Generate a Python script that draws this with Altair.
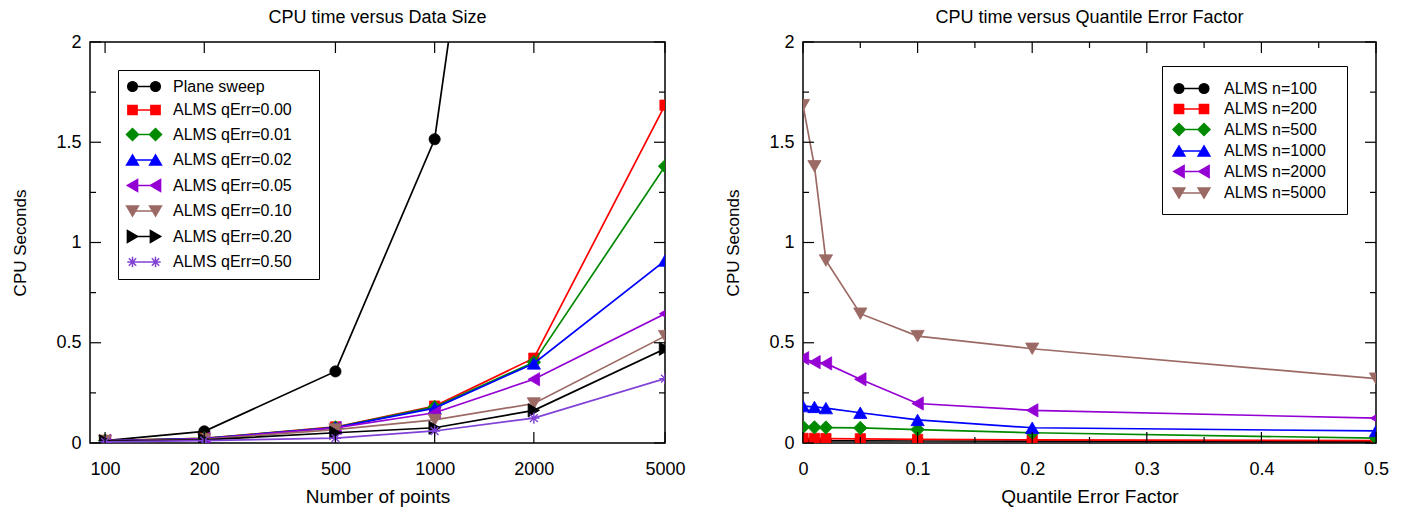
import altair as alt
import pandas as pd

# ---------------- data ----------------
sizes = [100, 200, 500, 1000, 2000, 5000]
qerrs = [0.0, 0.01, 0.02, 0.05, 0.10, 0.20, 0.50]

plane_sweep = [0.012, 0.058, 0.357, 1.515, 5.0, 32.0]

# ALMS CPU seconds for each n, one value per qErr (0, .01, .02, .05, .1, .2, .5)
alms_n100 = [0.012, 0.012, 0.011, 0.011, 0.010, 0.009, 0.006]
alms_n200 = [0.023, 0.023, 0.022, 0.021, 0.018, 0.016, 0.012]
alms_n500 = [0.080, 0.078, 0.077, 0.075, 0.067, 0.051, 0.024]
alms_n1000 = [0.184, 0.180, 0.174, 0.151, 0.115, 0.076, 0.060]
alms_n2000 = [0.423, 0.403, 0.397, 0.318, 0.197, 0.163, 0.124]
alms_n5000 = [1.685, 1.380, 0.910, 0.645, 0.533, 0.470, 0.321]
alms_rows = [alms_n100, alms_n200, alms_n500, alms_n1000, alms_n2000, alms_n5000]

left_names = ["Plane sweep", "ALMS qErr=0.00", "ALMS qErr=0.01", "ALMS qErr=0.02",
              "ALMS qErr=0.05", "ALMS qErr=0.10", "ALMS qErr=0.20", "ALMS qErr=0.50"]
right_names = ["ALMS n=100", "ALMS n=200", "ALMS n=500", "ALMS n=1000",
               "ALMS n=2000", "ALMS n=5000"]

y_major = [0, 0.5, 1, 1.5, 2]
y_minor = [0.25, 0.75, 1.25, 1.75]
q_major = [0.0, 0.1, 0.2, 0.3, 0.4, 0.5]
q_minor = [0.05, 0.15, 0.25, 0.35, 0.45]

# ---------------- styles ----------------
BLACK, RED, GREEN, BLUE = "#000000", "#ff0000", "#008a00", "#0000ff"
VIOLET, BROWN, STARC = "#9400d3", "#9c6a64", "#8042d6"
left_colors = [BLACK, RED, GREEN, BLUE, VIOLET, BROWN, BLACK, STARC]
left_kinds = ["circle", "square", "diamond", "triangle-up", "triangle-left",
              "triangle-down", "triangle-right", "star"]
right_colors = [BLACK, RED, GREEN, BLUE, VIOLET, BROWN]
right_kinds = left_kinds[:6]

FONT = "Liberation Sans"
STAR_PATH = "M-1,0L1,0M0,-1L0,1M-0.7,-0.7L0.7,0.7M-0.7,0.7L0.7,-0.7"
MARK_SIZE = {"circle": 125, "square": 105, "diamond": 180, "triangle-up": 175,
             "triangle-down": 175, "triangle-left": 175, "triangle-right": 175,
             "star": 125}


def marker_path(kind, cx, u):
    """One marker centred at cx (px), written in units of u px."""
    f = lambda v: f"{v / u:.3f}"
    if kind == "circle":
        h = 4.8
        return (f"M{f(cx + h)},0A{f(h)},{f(h)},0,1,1,{f(cx - h)},0"
                f"A{f(h)},{f(h)},0,1,1,{f(cx + h)},0Z")
    if kind == "square":
        h = 4.6
        return (f"M{f(cx - h)},{f(-h)}L{f(cx + h)},{f(-h)}L{f(cx + h)},{f(h)}"
                f"L{f(cx - h)},{f(h)}Z")
    if kind == "diamond":
        h = 6.0
        return f"M{f(cx - h)},0L{f(cx)},{f(-h)}L{f(cx + h)},0L{f(cx)},{f(h)}Z"
    w, t = 5.9, 5.1
    if kind == "triangle-up":
        return f"M{f(cx)},{f(-t)}L{f(cx + w)},{f(t)}L{f(cx - w)},{f(t)}Z"
    if kind == "triangle-down":
        return f"M{f(cx)},{f(t)}L{f(cx + w)},{f(-t)}L{f(cx - w)},{f(-t)}Z"
    if kind == "triangle-left":
        return f"M{f(cx - t)},0L{f(cx + t)},{f(-w)}L{f(cx + t)},{f(w)}Z"
    if kind == "triangle-right":
        return f"M{f(cx + t)},0L{f(cx - t)},{f(-w)}L{f(cx - t)},{f(w)}Z"
    a, d = 5.2, 3.7
    return (f"M{f(cx - a)},0L{f(cx + a)},0M{f(cx)},{f(-a)}L{f(cx)},{f(a)}"
            f"M{f(cx - d)},{f(-d)}L{f(cx + d)},{f(d)}M{f(cx - d)},{f(d)}L{f(cx + d)},{f(-d)}")


def legend_path(kind, c, u):
    return f"M{-c / u:.3f},0L{c / u:.3f},0" + marker_path(kind, -c, u) + marker_path(kind, c, u)


def series_layers(xfield, xs, ys, color, kind, xsc, xax, ysc, yax):
    df = pd.DataFrame({xfield: xs, "cpu": ys})
    enc = dict(x=alt.X(f"{xfield}:Q", scale=xsc, axis=xax),
               y=alt.Y("cpu:Q", scale=ysc, axis=yax))
    line = alt.Chart(df).mark_line(color=color, strokeWidth=1.7, clip=True).encode(**enc)
    if kind == "star":
        pts = alt.Chart(df).mark_point(shape=STAR_PATH, filled=False, color=color,
                                       strokeWidth=1.4, size=MARK_SIZE[kind],
                                       opacity=1, clip=True).encode(**enc)
    else:
        pts = alt.Chart(df).mark_point(shape=kind, filled=True, fill=color, stroke=color,
                                       strokeWidth=0.8, size=MARK_SIZE[kind],
                                       opacity=1, clip=True).encode(**enc)
    return [line, pts]


def tick_layers(xfield, xmaj, xmin, xsc, xax, ysc, yax, W, H, LMAJ=11, LMIN=6):
    out = []
    ydefs = [(y_major, LMAJ), (y_minor, LMIN)]
    for vals, L in ydefs:
        d = pd.DataFrame({"cpu": vals})
        y = alt.Y("cpu:Q", scale=ysc, axis=yax)
        out.append(alt.Chart(d).mark_rule(color="black", strokeWidth=1.2)
                   .encode(y=y, x=alt.value(0), x2=alt.value(L)))
        out.append(alt.Chart(d).mark_rule(color="black", strokeWidth=1.2)
                   .encode(y=y, x=alt.value(W), x2=alt.value(W - L)))
    xdefs = [(xmaj, LMAJ)] + ([(xmin, LMIN)] if xmin else [])
    for vals, L in xdefs:
        d = pd.DataFrame({xfield: vals})
        x = alt.X(f"{xfield}:Q", scale=xsc, axis=xax)
        out.append(alt.Chart(d).mark_rule(color="black", strokeWidth=1.2)
                   .encode(x=x, y=alt.value(H), y2=alt.value(H - L)))
        out.append(alt.Chart(d).mark_rule(color="black", strokeWidth=1.2)
                   .encode(x=x, y=alt.value(0), y2=alt.value(L)))
    return out


def legend_layer(names, colors, kinds, c, symsize, lx, ly, rowpad,
                 symoff, laboff, pad, nsp):
    u = symsize ** 0.5 / 2
    paths = [legend_path(k, c, u) for k in kinds]
    fills = ["transparent" if k == "star" else col for k, col in zip(kinds, colors)]
    lg = alt.Legend(title=None, orient="none", legendX=lx, legendY=ly, rowPadding=rowpad,
                    symbolSize=symsize, symbolStrokeWidth=1.5, symbolOffset=symoff,
                    labelOffset=laboff, padding=pad, labelLimit=400,
                    labelExpr="datum.label + '" + "\u00a0" * nsp + "\u200b'")
    d = pd.DataFrame({"series": names})
    return (alt.Chart(d).transform_filter("false")
            .mark_point(filled=True, opacity=1)
            .encode(fill=alt.Fill("series:N", scale=alt.Scale(domain=names, range=fills), legend=lg),
                    stroke=alt.Stroke("series:N", scale=alt.Scale(domain=names, range=colors), legend=lg),
                    shape=alt.Shape("series:N", scale=alt.Scale(domain=names, range=paths), legend=lg)))


W1, W2, H = 575, 573, 401
yscale = alt.Scale(domain=[0, 2], nice=False, zero=False)
yaxis = alt.Axis(title="CPU Seconds", values=y_major, format=".1~f",
                 labelPadding=9, titlePadding=26)

# ---------- left chart ----------
xs_left = alt.Scale(type="log", domain=[90, 5000], nice=False)
xa_left = alt.Axis(title="Number of points", values=sizes, format="d",
                   labelPadding=17, titlePadding=9)
left_layers = []
left_layers += series_layers("n", sizes, plane_sweep, left_colors[0], left_kinds[0],
                             xs_left, xa_left, yscale, yaxis)
for j in range(len(qerrs)):
    col = [row[j] for row in alms_rows]
    left_layers += series_layers("n", sizes, col, left_colors[j + 1], left_kinds[j + 1],
                                 xs_left, xa_left, yscale, yaxis)
left_layers += tick_layers("n", sizes, None, xs_left, xa_left, yscale, yaxis, W1, H)
left_layers.append(legend_layer(left_names, left_colors, left_kinds, 11.5, 100,
                                28, 28, 7.5, 9.5, 21, 8.5, 4))
left = alt.layer(*left_layers).properties(
    width=W1, height=H,
    title=alt.TitleParams("CPU time versus Data Size", fontSize=18,
                          fontWeight="normal", offset=6, font=FONT, color="black"))

# ---------- right chart ----------
xs_right = alt.Scale(domain=[0, 0.5], nice=False, zero=False)
xa_right = alt.Axis(title="Quantile Error Factor", values=q_major, format=".1~f",
                    labelPadding=17, titlePadding=9)
right_layers = []
for i, row in enumerate(alms_rows):
    right_layers += series_layers("q", qerrs, row, right_colors[i], right_kinds[i],
                                  xs_right, xa_right, yscale, yaxis)
right_layers += tick_layers("q", q_major, q_minor, xs_right, xa_right, yscale, yaxis, W2, H)
right_layers.append(legend_layer(right_names, right_colors, right_kinds, 12.5, 376,
                                 359, 24, 1.5, 7, 22, 12, 2))
right = alt.layer(*right_layers).properties(
    width=W2, height=H,
    title=alt.TitleParams("CPU time versus Quantile Error Factor", fontSize=18,
                          fontWeight="normal", offset=6, font=FONT, color="black"))

chart = (alt.hconcat(left, right, spacing=138, bounds="flush")
         .resolve_scale(fill="independent", stroke="independent", shape="independent")
         .properties(padding={"left": 3, "top": 0, "right": 0, "bottom": 0})
         .configure(font=FONT)
         .configure_view(stroke="black", strokeWidth=1.5)
         .configure_axis(labelFont=FONT, titleFont=FONT, labelFontSize=18, titleFontSize=19,
                         titleFontWeight="normal", labelColor="black", titleColor="black",
                         grid=False, domain=False, ticks=False, labelFlush=False,
                         labelOverlap=False)
         .configure_axisY(titleFontSize=17)
         .configure_legend(labelFont=FONT, labelFontSize=16, labelColor="black",
                           strokeColor="black", fillColor="white", cornerRadius=0))

chart.save("out.html", embed_options={"renderer": "svg", "actions": False})
